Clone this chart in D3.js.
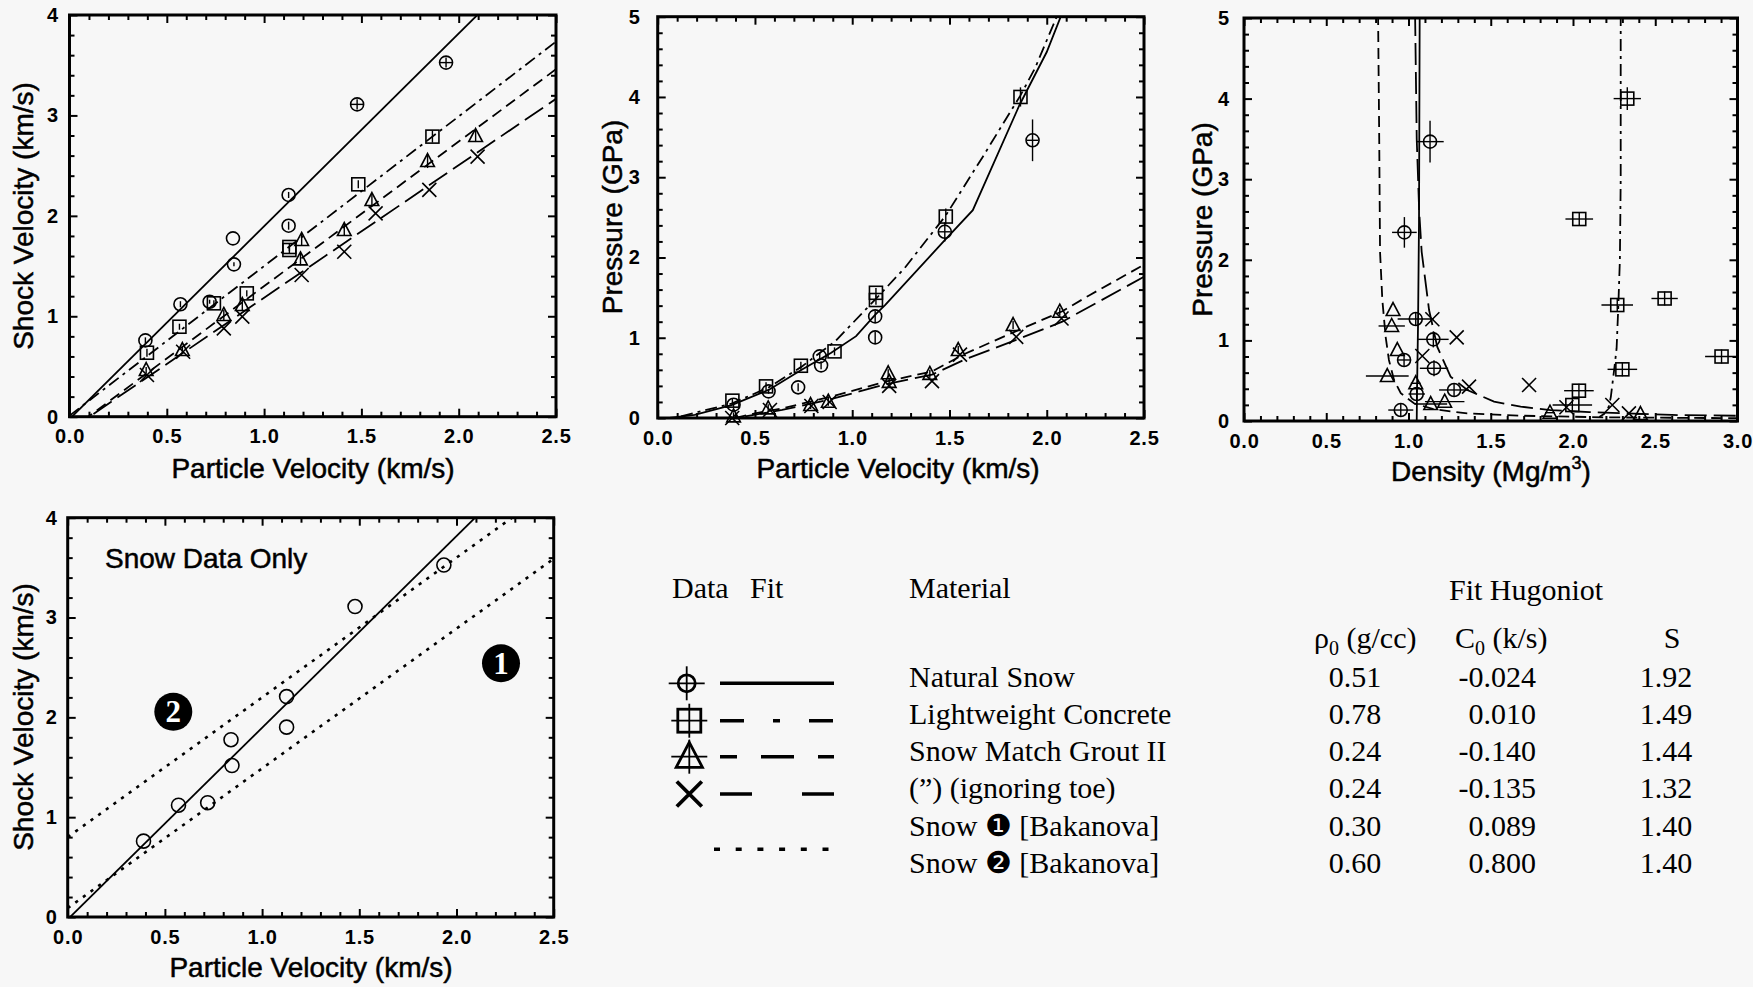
<!DOCTYPE html>
<html>
<head>
<meta charset="utf-8">
<script src="https://cdn.jsdelivr.net/npm/d3@7"></script>
<style>
  html, body { margin: 0; padding: 0; background: #f7f7f7; }
  svg { display: block; }
</style>
</head>
<body>
<svg id="fig" width="1753" height="987"></svg>
<script>
// ---------------- tick labels ----------------
const velTicks = [0, 0.5, 1.0, 1.5, 2.0, 2.5];
const usTicks = [0, 1, 2, 3, 4];
const presTicks = [0, 1, 2, 3, 4, 5];
const densTicks = [0, 0.5, 1.0, 1.5, 2.0, 2.5, 3.0];

// ---------------- fit table ----------------
const materialNames = ["Natural Snow", "Lightweight Concrete", "Snow Match Grout II",
  "(\u201D) (ignoring toe)", "Snow \u2776 [Bakanova]", "Snow \u2777 [Bakanova]"];
const fitRho0 = [0.51, 0.78, 0.24, 0.24, 0.30, 0.60];
const fitC0 = [-0.024, 0.010, -0.140, -0.135, 0.089, 0.800];
const fitS = [1.92, 1.49, 1.44, 1.32, 1.40, 1.40];

// ---------------- shock velocity vs particle velocity ----------------
const snowUp = [0.39, 0.57, 0.72, 0.84, 0.845, 1.126, 1.126, 1.478, 1.935];
const snowUs = [0.76, 1.12, 1.145, 1.776, 1.517, 2.208, 1.902, 3.11, 3.526];
const snowUsErr = [0.03, 0.03, 0.02, 0, 0.02, 0.03, 0.04, 0.05, 0.05];
const snowUpErr = [0, 0, 0, 0, 0, 0, 0, 0.035, 0.035];

const concUp = [0.398, 0.565, 0.742, 0.911, 1.13, 1.13, 1.484, 1.865];
const concUs = [0.637, 0.896, 1.129, 1.228, 1.69, 1.66, 2.314, 2.789];
const concUsErr = [0.04, 0.03, 0.03, 0.03, 0.04, 0.04, 0.04, 0.06];

const triUp = [0.394, 0.58, 0.793, 0.888, 1.193, 1.187, 1.412, 1.554, 1.84, 2.087];
const triUs = [0.465, 0.664, 1.013, 1.112, 1.76, 1.567, 1.859, 2.158, 2.546, 2.795];
const triUsErr = [0.03, 0.03, 0.05, 0.05, 0.06, 0.06, 0.06, 0.06, 0.07, 0.06];

const toeUp = [0.398, 0.584, 0.793, 0.888, 1.193, 1.412, 1.573, 1.849, 2.097];
const toeUs = [0.415, 0.647, 0.88, 0.996, 1.411, 1.643, 2.025, 2.258, 2.59];

// ---------------- pressure vs particle velocity ----------------
const snowPu = [0.39, 0.57, 0.722, 0.833, 0.84, 1.118, 1.118, 1.476, 1.927];
const snowP = [0.166, 0.332, 0.382, 0.768, 0.656, 1.266, 1.004, 2.32, 3.46];
const snowPErr = [0.03, 0.03, 0.05, 0.05, 0.05, 0.07, 0.07, 0.12, 0.26];
const snowPuErr = [0, 0, 0, 0, 0, 0, 0, 0.03, 0.03];

const concPu = [0.384, 0.557, 0.736, 0.909, 1.122, 1.122, 1.481, 1.865];
const concP = [0.216, 0.394, 0.651, 0.83, 1.56, 1.47, 2.51, 4.0];
const concPErr = [0.03, 0.05, 0.05, 0.05, 0.06, 0.06, 0.1, 0.12];

const triPu = [0.39, 0.568, 0.786, 0.877, 1.185, 1.19, 1.399, 1.545, 1.827, 2.067];
const triP = [0.02, 0.12, 0.162, 0.203, 0.557, 0.45, 0.55, 0.847, 1.159, 1.325];

const toePu = [0.383, 0.577, 0.79, 0.884, 1.19, 1.41, 1.554, 1.843, 2.076];
const toeP = [0.0, 0.1, 0.15, 0.2, 0.40, 0.46, 0.79, 1.01, 1.24];

// fitted pressure curves (vertices of the plotted polylines)
const snowFitU = [0.06, 0.19, 0.38, 0.57, 0.74, 0.89, 1.02, 1.12, 1.17, 1.47, 1.62, 1.86, 2.00, 2.08];
const snowFitP = [0.0, 0.04, 0.16, 0.35, 0.60, 0.81, 1.02, 1.29, 1.41, 2.2, 2.59, 3.90, 4.56, 5.05];
const concFitU = [0.12, 0.38, 0.57, 0.74, 0.91, 1.12, 1.27, 1.48, 1.67, 1.865, 1.94, 2.06];
const concFitP = [0.02, 0.18, 0.38, 0.64, 0.95, 1.48, 1.87, 2.52, 3.25, 4.02, 4.36, 5.05];
const triFitU = [0.40, 0.50, 0.64, 0.89, 1.17, 1.41, 1.58, 1.84, 2.08, 2.22, 2.5];
const triFitP = [0.0, 0.058, 0.12, 0.266, 0.452, 0.58, 0.80, 1.08, 1.33, 1.53, 1.91];
const toeFitU = [0.45, 0.64, 0.9, 1.17, 1.41, 1.58, 1.84, 2.08, 2.5];
const toeFitP = [0.02, 0.10, 0.24, 0.42, 0.54, 0.73, 0.97, 1.2, 1.76];

// ---------------- pressure vs density ----------------
const snowRho = [1.131, 0.975, 1.044, 1.151, 1.155, 1.277, 0.973, 1.05, 0.953];
const snowPd = [3.466, 2.34, 1.265, 1.013, 0.654, 0.385, 0.757, 0.335, 0.136];
const snowRhoErr = [0.083, 0.075, 0.11, 0.093, 0.086, 0.091, 0, 0.05, 0.076];
const snowPdErr = [0.26, 0.19, 0.05, 0.1, 0.1, 0.05, 0, 0.05, 0.05];

const concRho = [2.33, 2.038, 2.269, 2.557, 2.903, 2.3, 2.036, 1.996];
const concPd = [4.0, 2.506, 1.439, 1.52, 0.80, 0.641, 0.376, 0.198];
const concRhoErr = [0.083, 0.084, 0.096, 0.08, 0.1, 0.09, 0.09, 0.12];
const concPdErr = [0.14, 0.05, 0.05, 0.05, 0.05, 0.05, 0.05, 0.05];

const triRho = [0.906, 0.898, 0.932, 0.871, 1.044, 1.135, 1.22, 1.86, 2.41];
const triPd = [1.377, 1.179, 0.881, 0.558, 0.468, 0.211, 0.24, 0.103, 0.087];
const triRhoErr = [0, 0.08, 0, 0.13, 0.03, 0.1, 0.12, 0.03, 0.03];

const toeRho = [1.145, 1.293, 1.084, 1.368, 1.733, 2.239, 2.34, 1.96];
const toePd = [1.262, 1.038, 0.806, 0.426, 0.447, 0.198, 0.095, 0.17];

// fitted Hugoniot curves in the pressure-density plane (polyline vertices)
const snowFitRho = [1.068, 1.064, 1.058, 1.052, 1.05];
const snowFitPd = [5.05, 2.5, 1.2, 0.4, 0.0];
const concFitRho = [2.29, 2.29, 2.285, 2.275, 2.265, 2.25, 2.23, 2.218, 2.19, 2.16];
const concFitPd = [5.05, 3.0, 2.0, 1.4, 0.9, 0.63, 0.30, 0.18, 0.09, 0.05];
const triFitRho = [0.815, 0.822, 0.827, 0.841, 0.861, 0.881, 0.912, 0.953, 1.033, 1.155, 1.357, 1.7, 2.2, 3.0];
const triFitPd = [5.05, 3.5, 2.1, 1.5, 1.046, 0.757, 0.509, 0.344, 0.22, 0.145, 0.095, 0.065, 0.045, 0.035];
const toeFitRho = [1.04, 1.05, 1.065, 1.08, 1.125, 1.175, 1.256, 1.357, 1.52, 1.682, 1.864, 2.1, 2.6, 3.0];
const toeFitPd = [5.05, 3.5, 2.6, 2.1, 1.377, 0.92, 0.55, 0.385, 0.24, 0.178, 0.136, 0.11, 0.075, 0.065];

// ---------------- drawing ----------------
const W = 1753, H = 987;
const SANS = "'Liberation Sans', Arial, Helvetica, sans-serif";
const SERIF = "'Liberation Serif', 'Times New Roman', Times, serif";
const INK = "#000";
const dash = { snow: null, conc: "12,5,3,5", tri: "11,6", toe: "22,7", bak: "3.2,6.2" };

const loc = d3.formatLocale({ decimal: ".", thousands: ",", grouping: [3], currency: ["", ""], minus: "-" });
const f1 = loc.format(".1f"), f0 = loc.format("d"), f2 = loc.format(".2f"), f3 = loc.format(".3f");

const svg = d3.select("#fig");
svg.append("rect").attr("width", W).attr("height", H).attr("fill", "#f7f7f7");
const defs = svg.append("defs");

function zip(a, b) { return a.map((v, i) => [v, b[i]]); }

function panel(cfg) {
  const x = d3.scaleLinear().domain(cfg.xDomain).range([cfg.x0, cfg.x1]);
  const y = d3.scaleLinear().domain(cfg.yDomain).range([cfg.y1, cfg.y0]);
  const g = svg.append("g");
  const cid = "clip-" + cfg.id;
  defs.append("clipPath").attr("id", cid).append("rect")
    .attr("x", cfg.x0).attr("y", cfg.y0)
    .attr("width", cfg.x1 - cfg.x0).attr("height", cfg.y1 - cfg.y0);
  const plot = g.append("g").attr("clip-path", `url(#${cid})`);
  const marks = g.append("g");
  const axes = g.append("g");

  const xMinor = d3.range(cfg.xDomain[0], cfg.xDomain[1] + 1e-9, 0.1)
    .filter(v => !cfg.xMajor.some(m => Math.abs(m - v) < 1e-6));
  const yMinor = d3.range(cfg.yDomain[0], cfg.yDomain[1] + 1e-9, 0.2)
    .filter(v => !cfg.yMajor.some(m => Math.abs(m - v) < 1e-6));

  function ax(gen, tx, ty, vals, size, fmt, pad) {
    const a = axes.append("g").attr("transform", `translate(${tx},${ty})`)
      .call(gen.tickValues(vals).tickSize(-size).tickPadding(pad || 0).tickFormat(fmt || (() => "")));
    a.select(".domain").remove();
    a.selectAll(".tick line").attr("stroke", INK).attr("stroke-width", 2);
    a.selectAll(".tick text").attr("font-family", SANS).attr("font-size", 20)
      .attr("font-weight", "bold").attr("letter-spacing", 0.8).attr("fill", INK);
    return a;
  }
  ax(d3.axisBottom(x), 0, cfg.y1, cfg.xMajor, 8, cfg.xFmt, 12.5);
  ax(d3.axisBottom(x), 0, cfg.y1, xMinor, 5);
  ax(d3.axisTop(x), 0, cfg.y0, cfg.xMajor, 8);
  ax(d3.axisTop(x), 0, cfg.y0, xMinor, 5);
  ax(d3.axisLeft(y), cfg.x0, 0, cfg.yMajor, 8, cfg.yFmt, cfg.yPad);
  ax(d3.axisLeft(y), cfg.x0, 0, yMinor, 5);
  ax(d3.axisRight(y), cfg.x1, 0, cfg.yMajor, 8);
  ax(d3.axisRight(y), cfg.x1, 0, yMinor, 5);

  axes.append("rect").attr("x", cfg.x0).attr("y", cfg.y0)
    .attr("width", cfg.x1 - cfg.x0).attr("height", cfg.y1 - cfg.y0)
    .attr("fill", "none").attr("stroke", INK).attr("stroke-width", 3);

  const title = (t) => t.attr("font-family", SANS).attr("font-size", 28).attr("fill", INK)
    .attr("stroke", INK).attr("stroke-width", 0.5).attr("text-anchor", "middle");
  const xt = title(g.append("text").attr("x", cfg.xTitleX).attr("y", cfg.xTitleY));
  if (cfg.xTitleSup) {
    xt.append("tspan").text(cfg.xTitle);
    xt.append("tspan").attr("font-size", 18).attr("dy", -12).text(cfg.xTitleSup);
    xt.append("tspan").attr("dy", 12).text(")");
  } else xt.text(cfg.xTitle);
  title(g.append("text")).attr("transform", `translate(${cfg.yTitleX},${cfg.yTitleY}) rotate(-90)`).text(cfg.yTitle);

  return { x, y, plot, marks };
}

function drawLine(p, pts, style, width) {
  p.plot.append("path")
    .attr("d", d3.line().x(d => p.x(d[0])).y(d => p.y(d[1]))(pts))
    .attr("fill", "none").attr("stroke", INK).attr("stroke-width", width || 1.8)
    .attr("stroke-dasharray", style);
}

// straight Hugoniot Us = C0 + S*up, drawn across the full particle-velocity range
function fitLine(p, i, style, width) {
  const ends = p.x.domain().map(u => [u, fitC0[i] + fitS[i] * u]);
  drawLine(p, ends, style, width);
}

function marker(sel, type, cx, cy, s, sw) {
  const st = (e) => e.attr("fill", "none").attr("stroke", INK).attr("stroke-width", sw);
  if (type === "circle") st(sel.append("circle").attr("cx", cx).attr("cy", cy).attr("r", s));
  else if (type === "square") st(sel.append("rect").attr("x", cx - s).attr("y", cy - s).attr("width", 2 * s).attr("height", 2 * s));
  else if (type === "triangle") st(sel.append("path").attr("d",
    `M${cx},${cy - s * 1.15}L${cx + s * 1.05},${cy + s * 0.85}L${cx - s * 1.05},${cy + s * 0.85}Z`));
  else if (type === "x") st(sel.append("path").attr("d",
    `M${cx - s},${cy - s}L${cx + s},${cy + s}M${cx + s},${cy - s}L${cx - s},${cy + s}`));
}

function seg(sel, x1, y1, x2, y2, w) {
  sel.append("line").attr("x1", x1).attr("y1", y1).attr("x2", x2).attr("y2", y2)
    .attr("stroke", INK).attr("stroke-width", w || 1.4);
}

// points with error bars: ex/ey in data units, minCross draws a crosshair at least as wide as the marker
function points(p, type, xs, ys, ex, ey, opt) {
  const o = Object.assign({ s: 6.5, sw: 1.6, minCross: 0 }, opt || {});
  xs.forEach((xv, i) => {
    const cx = p.x(xv), cy = p.y(ys[i]);
    const exv = ex ? ex[i] : 0, eyv = ey ? ey[i] : 0;
    if (exv > 0 || o.minCross) {
      const hx = Math.max(Math.abs(p.x(xv + exv) - cx), o.minCross);
      if (hx > 0) seg(p.marks, cx - hx, cy, cx + hx, cy);
    }
    if (eyv > 0 || o.minCross) {
      const hy = Math.max(Math.abs(p.y(ys[i] + eyv) - cy), o.minCross);
      if (hy > 0) seg(p.marks, cx, cy - hy, cx, cy + hy);
    }
    marker(p.marks, type, cx, cy, o.s, o.sw);
  });
}

// ---- panel: shock velocity (all materials)
const p1 = panel({
  id: "us", x0: 69.5, x1: 556, y0: 15, y1: 416.7, xDomain: [0, 2.5], yDomain: [0, 4],
  xMajor: velTicks, yMajor: usTicks, xFmt: f1, yFmt: f0, yPad: 10.5,
  xTitle: "Particle Velocity (km/s)", xTitleX: 313, xTitleY: 478,
  yTitle: "Shock Velocity (km/s)", yTitleX: 33, yTitleY: 216
});
fitLine(p1, 0, dash.snow);
fitLine(p1, 1, dash.conc);
fitLine(p1, 2, dash.tri);
fitLine(p1, 3, dash.toe);
points(p1, "circle", snowUp, snowUs, snowUpErr, snowUsErr);
points(p1, "square", concUp, concUs, null, concUsErr);
points(p1, "triangle", triUp, triUs, null, triUsErr);
points(p1, "x", toeUp, toeUs, null, null, { s: 7 });

// ---- panel: pressure vs particle velocity
const p2 = panel({
  id: "pu", x0: 657.7, x1: 1144, y0: 16.7, y1: 418, xDomain: [0, 2.5], yDomain: [0, 5],
  xMajor: velTicks, yMajor: presTicks, xFmt: f1, yFmt: f0, yPad: 17,
  xTitle: "Particle Velocity (km/s)", xTitleX: 898, xTitleY: 478,
  yTitle: "Pressure (GPa)", yTitleX: 622, yTitleY: 217
});
drawLine(p2, zip(snowFitU, snowFitP), dash.snow);
drawLine(p2, zip(concFitU, concFitP), dash.conc);
drawLine(p2, zip(triFitU, triFitP), dash.tri);
drawLine(p2, zip(toeFitU, toeFitP), dash.toe);
points(p2, "circle", snowPu, snowP, snowPuErr, snowPErr);
points(p2, "square", concPu, concP, null, concPErr);
points(p2, "triangle", triPu, triP, null, triP.map(() => 0.05));
points(p2, "x", toePu, toeP, null, null, { s: 7 });

// ---- panel: pressure vs density
const p3 = panel({
  id: "pr", x0: 1244, x1: 1737.5, y0: 18, y1: 421, xDomain: [0, 3], yDomain: [0, 5],
  xMajor: densTicks, yMajor: presTicks, xFmt: f1, yFmt: f0, yPad: 14,
  xTitle: "Density (Mg/m", xTitleSup: "3", xTitleX: 1491, xTitleY: 481,
  yTitle: "Pressure (GPa)", yTitleX: 1212, yTitleY: 219.5
});
drawLine(p3, zip(snowFitRho, snowFitPd), dash.snow);
drawLine(p3, zip(concFitRho, concFitPd), dash.conc);
drawLine(p3, zip(triFitRho, triFitPd), dash.tri);
drawLine(p3, zip(toeFitRho, toeFitPd), dash.toe);
points(p3, "circle", snowRho, snowPd, snowRhoErr, snowPdErr, { minCross: 7 });
points(p3, "square", concRho, concPd, concRhoErr, concPdErr, { minCross: 7 });
points(p3, "triangle", triRho, triPd, triRhoErr, null, { minCross: 0 });
points(p3, "x", toeRho, toePd, null, null, { s: 7 });

// ---- panel: snow data with Bakanova fits
const p4 = panel({
  id: "snow", x0: 67.7, x1: 553.7, y0: 517.7, y1: 917, xDomain: [0, 2.5], yDomain: [0, 4],
  xMajor: velTicks, yMajor: usTicks, xFmt: f1, yFmt: f0, yPad: 10,
  xTitle: "Particle Velocity (km/s)", xTitleX: 311, xTitleY: 977,
  yTitle: "Shock Velocity (km/s)", yTitleX: 33, yTitleY: 717
});
fitLine(p4, 0, dash.snow);
fitLine(p4, 4, dash.bak, 2.6);
fitLine(p4, 5, dash.bak, 2.6);
points(p4, "circle", snowUp, snowUs, null, null, { s: 7 });
svg.append("text").attr("x", 105).attr("y", 568).attr("font-family", SANS).attr("font-size", 28)
  .attr("fill", INK).attr("stroke", INK).attr("stroke-width", 0.5).text("Snow Data Only");
[["2", 173.3, 711.7], ["1", 501, 663.3]].forEach(([t, cx, cy]) => {
  svg.append("circle").attr("cx", cx).attr("cy", cy).attr("r", 19).attr("fill", INK);
  svg.append("text").attr("x", cx).attr("y", cy + 10.5).attr("text-anchor", "middle")
    .attr("font-family", SERIF).attr("font-weight", "bold").attr("font-size", 31)
    .attr("fill", "#fff").text(t);
});

// ---------------- legend & fit table ----------------
const tbl = svg.append("g").attr("font-family", SERIF).attr("font-size", 30).attr("fill", INK);
tbl.append("text").attr("x", 672).attr("y", 598).text("Data");
tbl.append("text").attr("x", 750).attr("y", 598).text("Fit");
tbl.append("text").attr("x", 909).attr("y", 598).text("Material");
tbl.append("text").attr("x", 1449).attr("y", 600).text("Fit Hugoniot");
function subHead(x, main, rest) {
  const t = tbl.append("text").attr("x", x).attr("y", 648);
  t.append("tspan").text(main);
  t.append("tspan").attr("font-size", 20).attr("dy", 7).text("0");
  t.append("tspan").attr("dy", -7).text(rest);
}
subHead(1314, "\u03C1", " (g/cc)");
subHead(1455, "C", " (k/s)");
tbl.append("text").attr("x", 1672).attr("y", 648).attr("text-anchor", "middle").text("S");

const rowY = [686.5, 723.8, 761.1, 798.4, 835.7, 873];
materialNames.forEach((name, i) => {
  tbl.append("text").attr("x", 909).attr("y", rowY[i]).text(name);
  tbl.append("text").attr("x", 1355).attr("y", rowY[i]).attr("text-anchor", "middle").text(f2(fitRho0[i]));
  tbl.append("text").attr("x", 1536).attr("y", rowY[i]).attr("text-anchor", "end").text(f3(fitC0[i]));
  tbl.append("text").attr("x", 1666).attr("y", rowY[i]).attr("text-anchor", "middle").text(f2(fitS[i]));
});

// legend symbols and line samples
const leg = svg.append("g");
const legRows = [
  { type: "circle", y: 683.3, s: 8.5, cross: true, dash: null, off: 0 },
  { type: "square", y: 720.7, s: 11.5, cross: true, dash: "24,29,7,29", off: 0 },
  { type: "triangle", y: 756.7, s: 12.5, cross: true, dash: "33,24", off: 16 },
  { type: "x", y: 794, s: 12.5, cross: false, dash: "32,50", off: 0 }
];
legRows.forEach(r => {
  const cx = r.type === "circle" ? 686.7 : 689.3;
  if (r.cross) {
    seg(leg, cx - 18, r.y, cx + 18, r.y, 1.8);
    seg(leg, cx, r.y - 17, cx, r.y + 17, 1.8);
  }
  marker(leg, r.type, cx, r.y, r.s, r.type === "x" ? 3.8 : 2.8);
  leg.append("line").attr("x1", 720).attr("x2", 834).attr("y1", r.y).attr("y2", r.y)
    .attr("stroke", INK).attr("stroke-width", 3.4)
    .attr("stroke-dasharray", r.dash).attr("stroke-dashoffset", r.off);
});
leg.append("line").attr("x1", 714).attr("x2", 830).attr("y1", 849.3).attr("y2", 849.3)
  .attr("stroke", INK).attr("stroke-width", 3.5).attr("stroke-dasharray", "6,15.7");
</script>
</body>
</html>
